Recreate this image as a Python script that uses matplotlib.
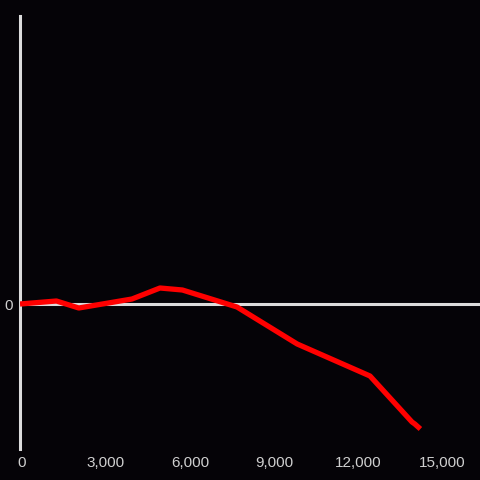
import matplotlib
matplotlib.use("Agg")
import matplotlib.pyplot as plt
from matplotlib.transforms import ScaledTranslation

# data
x_vals = [0, 1300, 2100, 4000, 5000, 5800, 7750, 9900, 12500, 14000, 14100, 14300]
y_vals = [0, 3, -4, 5, 16, 14, -3, -40, -72, -118, -120, -125]
x_ticks = [0, 3000, 6000, 9000, 12000, 15000]
x_tick_labels = ["0", "3,000", "6,000", "9,000", "12,000", "15,000"]
y_ticks = [0]
y_tick_labels = ["0"]

bg = "#050307"
axis_col = "#dcdcdc"
text_col = "#cfcfcf"

fig = plt.figure(figsize=(4.8, 4.8), dpi=100, facecolor=bg)
ax = fig.add_axes([20/480, 1 - 449/480, 460/480, (449 - 16)/480])
ax.set_facecolor(bg)

ax.set_xlim(0, 460/84*3000)
ax.set_ylim(-145, 288)

ax.axhline(0, color=axis_col, lw=2.2, zorder=1)
ax.plot(x_vals, y_vals, color="#ff0000", lw=3.8, solid_joinstyle="round",
        solid_capstyle="butt", zorder=3)

for s in ["top", "right", "bottom"]:
    ax.spines[s].set_visible(False)
ax.spines["left"].set_color(axis_col)
ax.spines["left"].set_linewidth(2.2)

ax.set_xticks(x_ticks)
ax.set_xticklabels(x_tick_labels)
ax.set_yticks(y_ticks)
ax.set_yticklabels(y_tick_labels)
ax.tick_params(axis="both", length=0, colors=text_col, labelsize=11)
ax.tick_params(axis="x", pad=5)
ax.tick_params(axis="y", pad=5)
shift = ScaledTranslation(2/100, 0, fig.dpi_scale_trans)
for lab in ax.get_xticklabels():
    lab.set_family("Liberation Sans")
    lab.set_transform(lab.get_transform() + shift)
for lab in ax.get_yticklabels():
    lab.set_family("Liberation Sans")

fig.savefig("out.png", dpi=100, facecolor=bg)
